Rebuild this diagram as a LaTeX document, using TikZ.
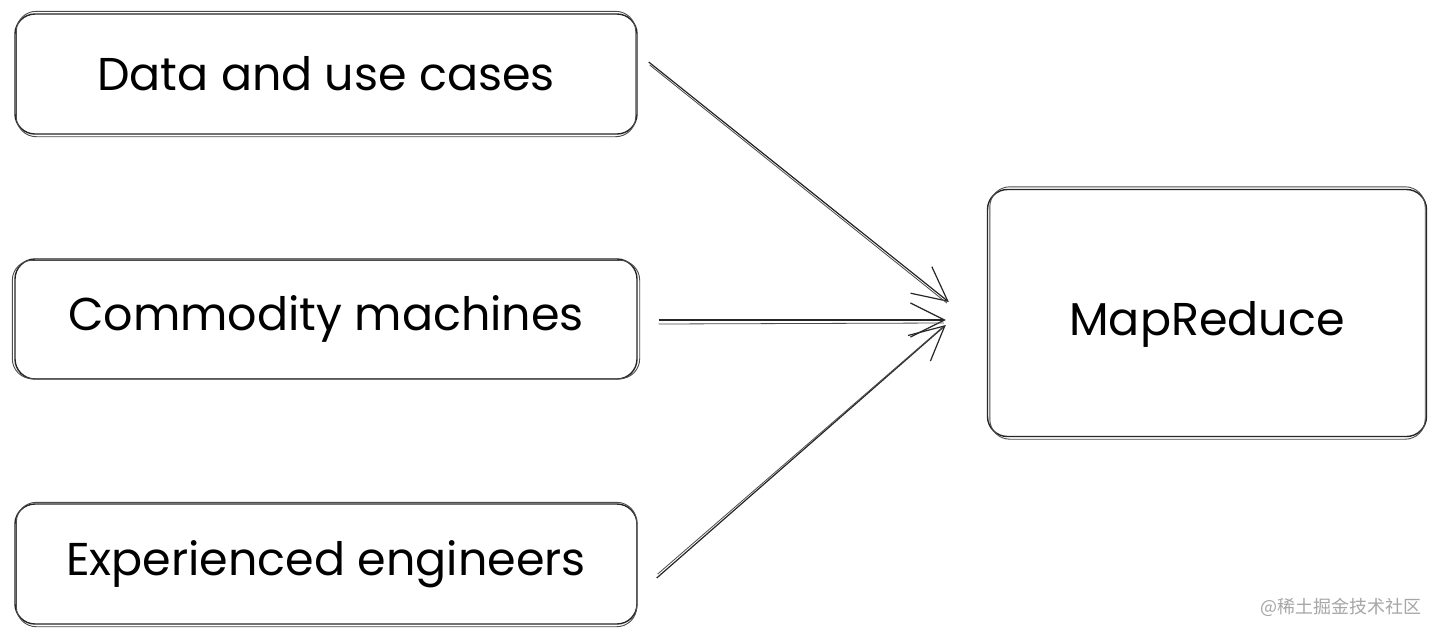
\documentclass[tikz,border=0pt]{standalone}
\usepackage{fontspec}
\setmainfont{Poppins}
\newfontfamily\cjk{Noto Sans CJK SC}
\usetikzlibrary{arrows.meta}
\tikzset{
  box/.style={draw=black!85, line width=1.4pt, rounded corners=20pt, minimum width=622pt, minimum height=120pt, inner sep=0pt, font=\fontsize{46}{54}\selectfont},
  bigbox/.style={box, minimum width=439pt, minimum height=247pt},
  ghost/.style={draw=black!70, line width=0.9pt, rounded corners=20pt},
  arr/.style={draw=black!85, line width=1.2pt, -{Straight Barb[length=34pt,width=34pt,line width=1.2pt]}},
  ghostarr/.style={draw=black!70, line width=0.8pt}
}
\begin{document}
\begin{tikzpicture}[x=1pt,y=-1pt]
\useasboundingbox[fill=white] (0,0) rectangle (1440,638);
\node[box] (b1) at (326,74) {\raisebox{2pt}{Data and use cases}};
\node[box] (b2) at (326,319) {Commodity machines};
\node[box] (b3) at (326,564) {\raisebox{2pt}{Experienced engineers}};
\node[bigbox] (mr) at (1207,313) {\raisebox{-22pt}[0pt][0pt]{MapReduce}};
% sketchy second strokes
\draw[ghost] ([shift={(2,-2)}]b1.north west) rectangle ([shift={(-2,2)}]b1.south east);
\draw[ghost] ([shift={(-2,2)}]b2.north west) rectangle ([shift={(2,-1)}]b2.south east);
\draw[ghost] ([shift={(2,-1)}]b3.north west) rectangle ([shift={(-1,2)}]b3.south east);
\draw[ghost] ([shift={(3,-2)}]mr.north west) rectangle ([shift={(-2,2)}]mr.south east);
% connectors
\coordinate (t1) at ([shift={(-38,-11)}]mr.west);
\coordinate (t2) at ([shift={(-41,7)}]mr.west);
\coordinate (t3) at ([shift={(-41,12)}]mr.west);
\draw[arr] ([shift={(11,-12)}]b1.east) -- (t1);
\draw[ghostarr] ([shift={(12,-9)}]b1.east) -- ([shift={(-2,1)}]t1);
\draw[arr] ([shift={(21,1)}]b2.east) -- (t2);
\draw[ghostarr] ([shift={(21,5)}]b2.east) -- ([shift={(-2,3)}]t2);
\draw[arr] ([shift={(19,14)}]b3.east) -- (t3);
\draw[ghostarr] ([shift={(20,10)}]b3.east) -- ([shift={(-3,2)}]t3);
% watermark
\node[font=\cjk\fontsize{18}{20}\selectfont, text=black!35, anchor=east, inner sep=0pt] (wm) at (1422,607) {@稀土掘金技术社区};
\end{tikzpicture}
\end{document}
